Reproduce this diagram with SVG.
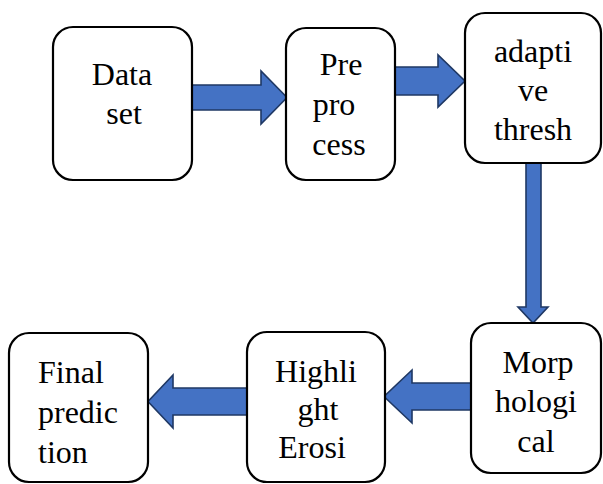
<svg xmlns="http://www.w3.org/2000/svg" width="603" height="484" viewBox="0 0 603 484">
<style>
.box{fill:#fff;stroke:#000;stroke-width:2.2}
.arr{fill:#4472C4;stroke:#1F3864;stroke-width:1.6;stroke-linejoin:miter}
.c{text-anchor:middle}
</style>
<rect width="603" height="484" fill="#fff"/>
<g id="connectors">
<polygon class="arr" points="192,85 261,85 261,71 287,97.5 261,124 261,110 192,110"/>
<polygon class="arr" points="380,67 438,67 438,55 465,81 438,107 438,95 380,95"/>
<polygon class="arr" points="526,163 541,163 541,307 548,307 533,323 518,307 526,307"/>
<polygon class="arr" points="471,383 412,383 412,370 384,396.5 412,423 412,410 471,410"/>
<polygon class="arr" points="249,388 173,388 173,375 148,401.5 173,428 173,415 249,415"/>
</g>
<g font-size="32" fill="#000" font-family="Liberation Serif, Times New Roman, serif">
<g id="dataset">
<rect class="box" x="53" y="27" width="139" height="153" rx="20"/>
<text class="c" x="122" y="85">Data</text>
<text class="c" x="124" y="124">set</text>
</g>
<g id="preprocess">
<rect class="box" x="286" y="28" width="109" height="152" rx="20"/>
<text class="c" x="341" y="75">Pre</text>
<text class="c" x="334" y="115">pro</text>
<text class="c" x="339" y="155">cess</text>
</g>
<g id="adaptive">
<rect class="box" x="465" y="13" width="136" height="150" rx="20"/>
<text class="c" x="533" y="62">adapti</text>
<text class="c" x="533" y="101">ve</text>
<text class="c" x="533" y="140">thresh</text>
</g>
<g id="morphological">
<rect class="box" x="471" y="323" width="130" height="150" rx="20"/>
<text class="c" x="538" y="373">Morp</text>
<text class="c" x="536" y="412">hologi</text>
<text class="c" x="536" y="452">cal</text>
</g>
<g id="highlight">
<rect class="box" x="247" y="332" width="138" height="150" rx="20"/>
<text class="c" x="316" y="382">Highli</text>
<text class="c" x="318" y="420">ght</text>
<text class="c" x="312" y="458">Erosi</text>
</g>
<g id="final">
<rect class="box" x="9" y="333" width="139" height="149" rx="20"/>
<text x="38" y="383">Final</text>
<text x="38" y="423">predic</text>
<text x="38" y="463">tion</text>
</g>
</g>
</svg>
